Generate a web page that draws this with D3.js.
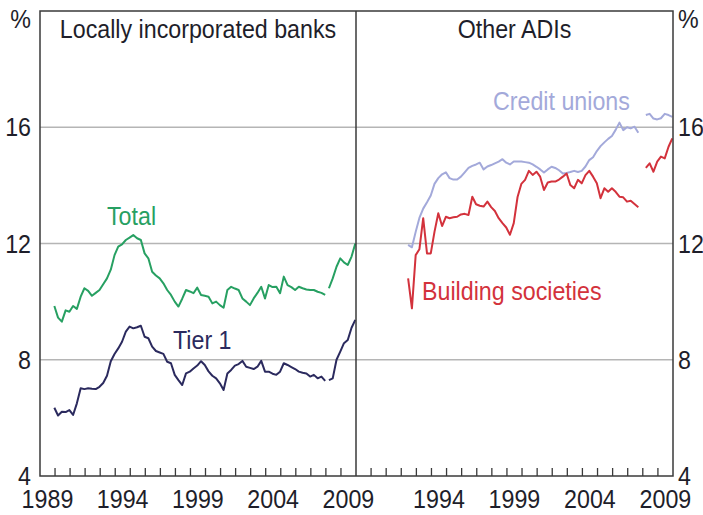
<!DOCTYPE html>
<meta charset="utf-8">
<script src="https://d3js.org/d3.v7.min.js"></script>
<style>
  body { margin: 0; background: #fff; }
  text { font-family: "Liberation Sans", Arial, sans-serif; }
</style>
<svg id="chart" width="703" height="515"></svg>
<script>

// ---- data (quarterly, % of risk-weighted assets) ----
var panelTitles = ["Locally incorporated banks", "Other ADIs"];
var yTicks = [4, 8, 12, 16];
var leftYearLabels = [1989, 1994, 1999, 2004, 2009];
var rightYearLabels = [1994, 1999, 2004, 2009];

// locally incorporated banks, Dec 1989 - Dec 2007, then Mar 2008 - Dec 2009
var totalPre = [9.85,
  9.45, 9.31, 9.70, 9.65,   9.85, 9.75, 10.17, 10.46,  10.37, 10.20, 10.30, 10.40,
  10.60, 10.80, 11.10, 11.60,  11.89, 11.97, 12.12, 12.20,  12.29, 12.18, 12.12, 11.66,
  11.49, 11.03, 10.90, 10.80,  10.63, 10.40, 10.23, 10.00,  9.83, 10.10, 10.40, 10.35,
  10.29, 10.48, 10.23, 10.20,  10.17, 9.94, 10.00, 9.88,  9.79, 10.40, 10.51, 10.45,
  10.40, 10.11, 10.00, 9.88,  10.11, 10.30, 10.51, 10.11,  10.57, 10.50, 10.51, 10.29,
  10.86, 10.57, 10.50, 10.40,  10.51, 10.46, 10.42, 10.40,  10.40, 10.34, 10.30, 10.23];
var totalPost = [10.46, 10.80, 11.20, 11.49, 11.35, 11.26, 11.55, 12.00];

var tier1Pre = [6.35,
  6.08, 6.21, 6.20, 6.27,  6.10, 6.50, 7.02, 6.99,  7.02, 7.00, 6.99, 7.07,
  7.20, 7.45, 7.95, 8.20,  8.39, 8.62, 8.97, 9.14,  9.08, 9.12, 9.17, 8.79,
  8.74, 8.45, 8.30, 8.25,  8.20, 7.93, 7.88, 7.48,  7.30, 7.13, 7.53, 7.59,
  7.70, 7.80, 7.95, 7.82,  7.60, 7.45, 7.36, 7.19,  6.96, 7.53, 7.65, 7.80,
  7.85, 7.96, 7.76, 7.72,  7.68, 7.76, 7.96, 7.59,  7.59, 7.52, 7.48, 7.59,
  7.88, 7.82, 7.75, 7.68,  7.59, 7.55, 7.53, 7.42,  7.48, 7.36, 7.42, 7.27];
var tier1Post = [7.30, 7.36, 8.00, 8.28, 8.57, 8.68, 9.10, 9.37];

// other ADIs, Jun 1992 - Sep 2007, then Mar 2008 - Dec 2009
var creditPre = [11.95, 11.87, 12.40,
  12.88, 13.20, 13.42, 13.65,  14.05, 14.25, 14.38, 14.45,  14.25, 14.20, 14.20, 14.30,
  14.45, 14.60, 14.67, 14.72,  14.78, 14.55, 14.65, 14.70,  14.76, 14.82, 14.90, 14.78,
  14.72, 14.82, 14.82, 14.82,  14.80, 14.78, 14.72, 14.64,  14.55, 14.44, 14.55, 14.64,
  14.60, 14.52, 14.41, 14.43,  14.46, 14.50, 14.46, 14.50,  14.65, 14.87, 14.97, 15.18,
  15.35, 15.48, 15.60, 15.70,  15.91, 16.16, 15.90, 16.00,  15.96, 16.02, 15.81];
var creditPost = [16.42, 16.46, 16.30, 16.27, 16.31, 16.46, 16.42, 16.36];

var buildingPre = [10.80, 9.77, 11.60,
  11.80, 12.87, 11.66, 11.66,  12.40, 13.04, 12.60, 12.92,  12.87, 12.90, 12.92, 13.00,
  13.02, 12.98, 13.61, 13.35,  13.30, 13.27, 13.44, 13.25,  13.12, 12.87, 12.70, 12.55,
  12.30, 12.70, 13.60, 14.05,  14.19, 14.50, 14.36, 14.47,  14.30, 13.84, 14.10, 14.13,
  14.13, 14.20, 14.30, 14.41,  14.01, 13.90, 14.19, 14.07,  14.35, 14.50, 14.30, 14.07,
  13.56, 13.90, 13.78, 13.90,  13.78, 13.61, 13.59, 13.44,  13.47, 13.36, 13.25];
var buildingPost = [14.60, 14.76, 14.47, 14.82, 14.99, 14.93, 15.33, 15.62];

// turn a list of quarterly values into dated points (mid of the quarter-end month)
function quarterly(year, month, values) {
  return values.map(function(v, i) {
    return { date: new Date(year, month - 1 + 3 * i, 15), value: v };
  });
}

var svg = d3.select("#chart");

var plotTop = 11, plotBottom = 476;
var x0 = 40, xMid = 356, x1 = 673;
var domain = [new Date(1989, 0, 1), new Date(2010, 0, 1)];

var xL = d3.scaleTime().domain(domain).range([x0, xMid]);
var xR = d3.scaleTime().domain(domain).range([xMid, x1]);
var y = d3.scaleLinear().domain([4, 20]).range([plotBottom, plotTop]);

var colours = {
  total: "#27a062",
  tier1: "#2b2a5e",
  credit: "#a3a9da",
  building: "#d3323c",
  grid: "#b5b5b5",
  frame: "#3a3a3a",
  text: "#1e1e2a"
};

function addText(px, py, str, anchor, colour) {
  svg.append("text")
    .attr("transform", "translate(" + px + "," + py + ") scale(0.93,1)")
    .attr("text-anchor", anchor)
    .attr("font-size", 25)
    .attr("fill", colour)
    .text(str);
}

// horizontal grid lines
svg.append("g")
  .selectAll("line")
  .data(yTicks.filter(function(d){ return d > 4; }))
  .enter()
  .append("line")
    .attr("x1", x0).attr("x2", x1)
    .attr("y1", function(d){ return y(d); })
    .attr("y2", function(d){ return y(d); })
    .attr("stroke", colours.grid)
    .attr("stroke-width", 1.5);

// year ticks along the bottom of each panel
var years = d3.timeYear.range(new Date(1990, 0, 1), new Date(2010, 0, 1));
[xL, xR].forEach(function(x) {
  svg.append("g")
    .selectAll("line")
    .data(years)
    .enter()
    .append("line")
      .attr("x1", function(d){ return x(d); })
      .attr("x2", function(d){ return x(d); })
      .attr("y1", plotBottom)
      .attr("y2", plotBottom - 8)
      .attr("stroke", colours.frame)
      .attr("stroke-width", 1.3);
});

// the lines
var line = function(x) {
  return d3.line()
    .x(function(d){ return x(d.date); })
    .y(function(d){ return y(d.value); });
};

var series = [
  { data: quarterly(1989, 12, totalPre), x: xL, colour: colours.total },
  { data: quarterly(2008, 3, totalPost), x: xL, colour: colours.total },
  { data: quarterly(1989, 12, tier1Pre), x: xL, colour: colours.tier1 },
  { data: quarterly(2008, 3, tier1Post), x: xL, colour: colours.tier1 },
  { data: quarterly(1992, 6, creditPre), x: xR, colour: colours.credit },
  { data: quarterly(2008, 3, creditPost), x: xR, colour: colours.credit },
  { data: quarterly(1992, 6, buildingPre), x: xR, colour: colours.building },
  { data: quarterly(2008, 3, buildingPost), x: xR, colour: colours.building }
];

series.forEach(function(s) {
  svg.append("path")
    .datum(s.data)
    .attr("fill", "none")
    .attr("stroke", s.colour)
    .attr("stroke-width", 2)
    .attr("stroke-linejoin", "round")
    .attr("d", line(s.x));
});

// panel frames
svg.append("rect")
  .attr("x", x0).attr("y", plotTop)
  .attr("width", x1 - x0).attr("height", plotBottom - plotTop)
  .attr("fill", "none")
  .attr("stroke", colours.frame)
  .attr("stroke-width", 1.5);
svg.append("line")
  .attr("x1", xMid).attr("x2", xMid)
  .attr("y1", plotTop).attr("y2", plotBottom)
  .attr("stroke", colours.frame)
  .attr("stroke-width", 1.5);

// y axis labels, both sides
yTicks.forEach(function(t) {
  addText(31, y(t) + 9, t, "end", colours.text);
  addText(678, y(t) + 9, t, "start", colours.text);
});
addText(31, 28, "%", "end", colours.text);
addText(678, 28, "%", "start", colours.text);

// x axis labels, centred in the year
leftYearLabels.forEach(function(yr) {
  addText(xL(new Date(yr, 6, 1)), 508, yr, "middle", colours.text);
});
rightYearLabels.forEach(function(yr) {
  addText(xR(new Date(yr, 6, 1)), 508, yr, "middle", colours.text);
});

// panel titles
addText((x0 + xMid) / 2, 38, panelTitles[0], "middle", colours.text);
addText((xMid + x1) / 2, 38, panelTitles[1], "middle", colours.text);

// series labels
addText(107, 225, "Total", "start", colours.total);
addText(173, 349, "Tier 1", "start", colours.tier1);
addText(493, 110, "Credit unions", "start", colours.credit);
addText(422, 300, "Building societies", "start", colours.building);

</script>
